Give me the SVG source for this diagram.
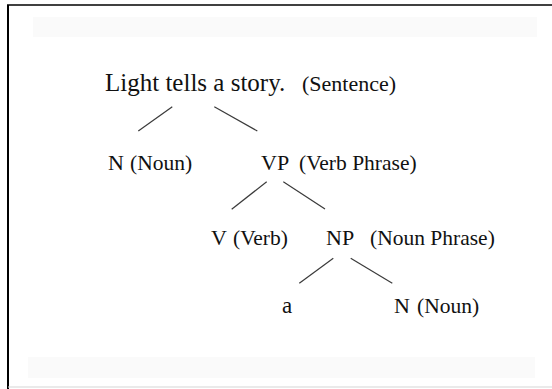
<svg xmlns="http://www.w3.org/2000/svg" width="552" height="389" viewBox="0 0 552 389">
  <style>
    .t { font-family: "Liberation Serif", "Times New Roman", serif; fill: #111; }
    .head { font-size: 22px; }
    .lbl { font-size: 21.5px; }
    .edge { stroke: #3a3a3a; stroke-width: 1.2; fill: none; }
    .band { fill: #fafafa; }
  </style>
  <rect x="0" y="0" width="552" height="389" fill="#ffffff"/>
  <g id="frame">
    <rect class="band" x="33" y="17" width="504" height="20"/>
    <rect class="band" x="28" y="357" width="507" height="21"/>
    <line x1="7" y1="5" x2="552" y2="5" stroke="#000" stroke-width="1.6"/>
    <line x1="8" y1="5" x2="8" y2="389" stroke="#000" stroke-width="2"/>
    <line x1="8" y1="387" x2="552" y2="387" stroke="#d6d6d6" stroke-width="1.2"/>
  </g>
  <g id="connectors">
    <line class="edge" x1="172.3" y1="106.7" x2="138.3" y2="131"/>
    <line class="edge" x1="214.3" y1="106.7" x2="257.3" y2="131"/>
    <line class="edge" x1="266.7" y1="181.7" x2="231.7" y2="209.3"/>
    <line class="edge" x1="283.3" y1="181.7" x2="325" y2="209"/>
    <line class="edge" x1="333.3" y1="258.3" x2="299.3" y2="283.3"/>
    <line class="edge" x1="350.7" y1="258.3" x2="392.3" y2="283.3"/>
  </g>
  <g id="node-sentence">
    <text class="t" x="105" y="91" font-size="25">Light tells a story.</text>
    <text class="t" x="302" y="91" font-size="22">(Sentence)</text>
  </g>
  <g id="node-n1">
    <text class="t head" x="108" y="170">N</text>
    <text class="t lbl" x="130" y="170">(Noun)</text>
  </g>
  <g id="node-vp">
    <text class="t head" x="261" y="170">VP</text>
    <text class="t lbl" x="299" y="170" font-size="22">(Verb Phrase)</text>
  </g>
  <g id="node-v">
    <text class="t head" x="211" y="245">V</text>
    <text class="t lbl" x="233" y="245">(Verb)</text>
  </g>
  <g id="node-np">
    <text class="t head" x="326" y="245">NP</text>
    <text class="t lbl" x="370" y="245" font-size="22.5">(Noun Phrase)</text>
  </g>
  <g id="node-a">
    <text class="t" x="282" y="313" font-size="23">a</text>
  </g>
  <g id="node-n2">
    <text class="t head" x="394" y="313">N</text>
    <text class="t lbl" x="417" y="313" font-size="22.5">(Noun)</text>
  </g>
</svg>
